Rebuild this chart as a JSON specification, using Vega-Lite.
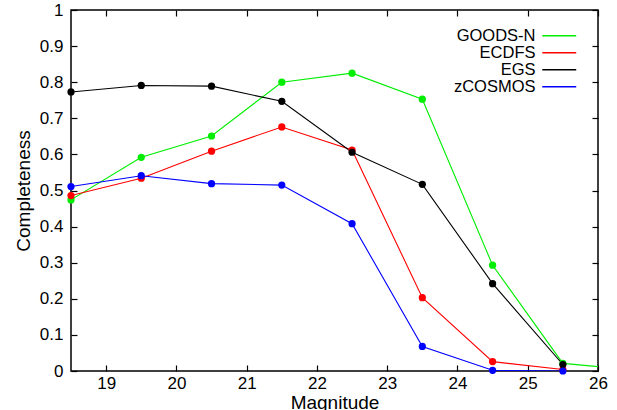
{
  "$schema": "https://vega.github.io/schema/vega-lite/v6.json",
  "autosize": "none",
  "width": 527,
  "height": 361,
  "padding": {"left": 71, "top": 10, "right": 19, "bottom": 39},
  "background": "white",
  "config": {
    "view": {"stroke": "black", "strokeWidth": 1.5},
    "font": "Liberation Sans",
    "axis": {"grid": false, "domain": false, "labelFont": "Liberation Sans", "titleFont": "Liberation Sans", "labelFontSize": 17, "titleFontSize": 19, "titleFontWeight": "normal", "labelColor": "black", "titleColor": "black", "tickColor": "black", "tickSize": -6, "tickWidth": 1.2}
  },
  "data": {"values": [
    {"mag": 18.5, "comp": 0.474, "survey": "GOODS-N"},
    {"mag": 19.5, "comp": 0.592, "survey": "GOODS-N"},
    {"mag": 20.5, "comp": 0.651, "survey": "GOODS-N"},
    {"mag": 21.5, "comp": 0.800, "survey": "GOODS-N"},
    {"mag": 22.5, "comp": 0.825, "survey": "GOODS-N"},
    {"mag": 23.5, "comp": 0.753, "survey": "GOODS-N"},
    {"mag": 24.5, "comp": 0.293, "survey": "GOODS-N"},
    {"mag": 25.5, "comp": 0.021, "survey": "GOODS-N"},
    {"mag": 26.5, "comp": 0.003, "survey": "GOODS-N"},
    {"mag": 18.5, "comp": 0.486, "survey": "ECDFS"},
    {"mag": 19.5, "comp": 0.534, "survey": "ECDFS"},
    {"mag": 20.5, "comp": 0.609, "survey": "ECDFS"},
    {"mag": 21.5, "comp": 0.676, "survey": "ECDFS"},
    {"mag": 22.5, "comp": 0.612, "survey": "ECDFS"},
    {"mag": 23.5, "comp": 0.203, "survey": "ECDFS"},
    {"mag": 24.5, "comp": 0.026, "survey": "ECDFS"},
    {"mag": 25.5, "comp": 0.004, "survey": "ECDFS"},
    {"mag": 18.5, "comp": 0.773, "survey": "EGS"},
    {"mag": 19.5, "comp": 0.791, "survey": "EGS"},
    {"mag": 20.5, "comp": 0.789, "survey": "EGS"},
    {"mag": 21.5, "comp": 0.747, "survey": "EGS"},
    {"mag": 22.5, "comp": 0.606, "survey": "EGS"},
    {"mag": 23.5, "comp": 0.517, "survey": "EGS"},
    {"mag": 24.5, "comp": 0.242, "survey": "EGS"},
    {"mag": 25.5, "comp": 0.018, "survey": "EGS"},
    {"mag": 18.5, "comp": 0.511, "survey": "zCOSMOS"},
    {"mag": 19.5, "comp": 0.541, "survey": "zCOSMOS"},
    {"mag": 20.5, "comp": 0.519, "survey": "zCOSMOS"},
    {"mag": 21.5, "comp": 0.515, "survey": "zCOSMOS"},
    {"mag": 22.5, "comp": 0.408, "survey": "zCOSMOS"},
    {"mag": 23.5, "comp": 0.068, "survey": "zCOSMOS"},
    {"mag": 24.5, "comp": 0.002, "survey": "zCOSMOS"},
    {"mag": 25.5, "comp": 0.0, "survey": "zCOSMOS"}
  ]},
  "resolve": {"scale": {"x": "shared", "y": "shared", "color": "shared"}, "axis": {"x": "independent", "y": "independent"}},
  "layer": [
    {
      "mark": {"type": "line", "clip": true, "strokeWidth": 1.1},
      "encoding": {
        "x": {"field": "mag", "type": "quantitative", "scale": {"domain": [18.5, 26], "nice": false, "zero": false},
              "axis": {"values": [19, 20, 21, 22, 23, 24, 25, 26], "format": "~g", "title": "Magnitude", "labelPadding": 10.5, "titlePadding": 1.5, "labelFlush": false}},
        "y": {"field": "comp", "type": "quantitative", "scale": {"domain": [0, 1], "nice": false},
              "axis": {"values": [0, 0.1, 0.2, 0.3, 0.4, 0.5, 0.6, 0.7, 0.8, 0.9, 1], "format": "~g", "title": "Completeness", "labelPadding": 14, "titlePadding": 6, "labelFlush": false}},
        "color": {"field": "survey", "type": "nominal",
                  "scale": {"domain": ["GOODS-N", "ECDFS", "EGS", "zCOSMOS"], "range": ["#00ee00", "#ff0000", "#000000", "#0000ff"]},
                  "legend": {"orient": "none", "legendX": 480, "legendY": 17.5, "title": null, "symbolType": "M-4,0H4", "symbolSize": 72, "symbolStrokeWidth": 1.3, "labelAlign": "right", "labelOffset": -32, "labelFontSize": 16.5, "labelFont": "Liberation Sans", "labelColor": "black", "rowPadding": 0, "labelLimit": 200,
                             "encode": {"symbols": {"update": {"stroke": {"scale": "color", "field": "value"}, "strokeWidth": {"value": 1.3}, "opacity": {"value": 1}, "fill": {"value": "transparent"}}}}}}
      }
    },
    {
      "transform": [{"filter": "datum.mag <= 25.5"}],
      "mark": {"type": "point", "filled": true, "size": 52, "opacity": 1, "shape": "circle"},
      "encoding": {
        "x": {"field": "mag", "type": "quantitative", "axis": null},
        "y": {"field": "comp", "type": "quantitative", "axis": null},
        "color": {"field": "survey", "type": "nominal", "legend": null}
      }
    },
    {
      "transform": [{"filter": "datum.mag <= 25.5"}],
      "mark": {"type": "point", "opacity": 0},
      "encoding": {
        "x": {"field": "mag", "type": "quantitative", "axis": {"orient": "top", "values": [19, 20, 21, 22, 23, 24, 25, 26], "labels": false, "title": null}},
        "y": {"field": "comp", "type": "quantitative", "axis": {"orient": "right", "values": [0, 0.1, 0.2, 0.3, 0.4, 0.5, 0.6, 0.7, 0.8, 0.9, 1], "labels": false, "title": null}}
      }
    }
  ]
}
